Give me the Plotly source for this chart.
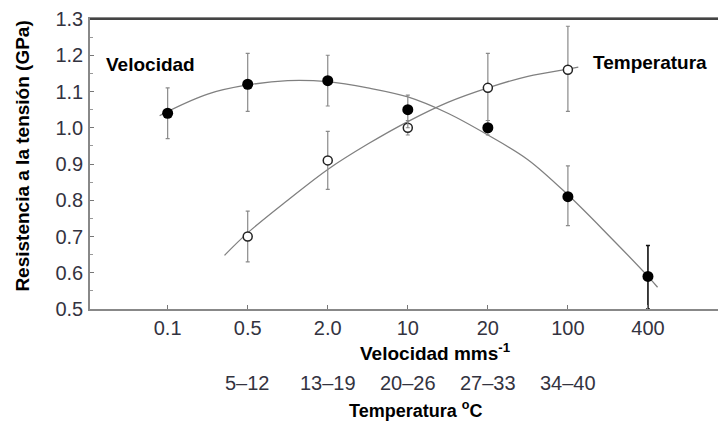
import plotly.graph_objects as go

# Category axis (velocity, mm/s) and temperature ranges
vel_labels = ["0.1", "0.5", "2.0", "10", "20", "100", "400"]
temp_labels = ["5–12", "13–19", "20–26", "27–33", "34–40"]

# Velocidad (filled) data
vel_x = [0, 1, 2, 3, 4, 5]
vel_y = [1.04, 1.12, 1.13, 1.05, 1.00, 0.81]
vel_err_plus = [0.07, 0.085, 0.07, 0.04, 0.02, 0.085]
vel_err_minus = [0.07, 0.075, 0.07, 0.05, 0.02, 0.08]
vel_last_x = [6]
vel_last_y = [0.59]
vel_last_plus = [0.085]
vel_last_minus = [0.09]

# Temperatura (open) data
temp_x = [1, 2, 3, 4, 5]
temp_y = [0.70, 0.91, 1.00, 1.11, 1.16]
temp_err_plus = [0.07, 0.08, 0.02, 0.095, 0.12]
temp_err_minus = [0.07, 0.08, 0.02, 0.09, 0.115]

# Fitted curves
vel_fit_x = [-0.1, 0, 0.5, 1, 1.5, 2, 2.5, 3, 3.5, 4, 4.5, 5, 5.5, 6, 6.12]
vel_fit_y = [1.033, 1.045, 1.093, 1.118, 1.13, 1.127, 1.11, 1.085, 1.04, 0.98,
             0.912, 0.815, 0.705, 0.59, 0.56]
temp_fit_x = [0.71, 1, 1.5, 2, 2.5, 3, 3.5, 4, 4.5, 5, 5.13]
temp_fit_y = [0.648, 0.71, 0.80, 0.885, 0.955, 1.017, 1.07, 1.11, 1.142, 1.162, 1.167]

FONT = "Liberation Sans, Arial, sans-serif"
fig = go.Figure()

fig.add_trace(go.Scatter(x=vel_fit_x, y=vel_fit_y, mode="lines",
                         line=dict(color="#808080", width=1.3, shape="spline"),
                         showlegend=False, hoverinfo="skip"))
fig.add_trace(go.Scatter(x=temp_fit_x, y=temp_fit_y, mode="lines",
                         line=dict(color="#808080", width=1.3, shape="spline"),
                         showlegend=False, hoverinfo="skip"))

fig.add_trace(go.Scatter(
    x=temp_x, y=temp_y, mode="markers",
    marker=dict(symbol="circle", size=9, color="white",
                line=dict(color="#222222", width=1.5)),
    error_y=dict(type="data", symmetric=False, array=temp_err_plus,
                 arrayminus=temp_err_minus, color="#8a8a8a", thickness=1.2, width=2),
    showlegend=False))

fig.add_trace(go.Scatter(
    x=vel_x, y=vel_y, mode="markers",
    marker=dict(symbol="circle", size=11, color="black"),
    error_y=dict(type="data", symmetric=False, array=vel_err_plus,
                 arrayminus=vel_err_minus, color="#8a8a8a", thickness=1.2, width=2),
    showlegend=False))

fig.add_trace(go.Scatter(
    x=vel_last_x, y=vel_last_y, mode="markers",
    marker=dict(symbol="circle", size=11, color="black"),
    error_y=dict(type="data", symmetric=False, array=vel_last_plus,
                 arrayminus=vel_last_minus, color="#111111", thickness=1.6, width=2),
    showlegend=False))

tickfont = dict(family=FONT, size=20, color="#33333f")

fig.update_xaxes(range=[-0.97, 6.95], tickmode="array", tickvals=list(range(7)),
                 ticktext=vel_labels, ticks="inside", ticklen=4, tickcolor="#777",
                 showline=True, linecolor="#888888", linewidth=1.5, mirror=True,
                 showgrid=False, zeroline=False, tickfont=tickfont,
                 ticklabelstandoff=0, automargin=False)
fig.update_yaxes(range=[0.5, 1.3], tickmode="array",
                 tickvals=[0.5, 0.6, 0.7, 0.8, 0.9, 1.0, 1.1, 1.2, 1.3],
                 ticktext=["0.5", "0.6", "0.7", "0.8", "0.9", "1.0", "1.1", "1.2", "1.3"],
                 ticks="inside", ticklen=4, tickcolor="#777",
                 minor=dict(ticks="inside", ticklen=3, dtick=0.05, tickcolor="#999"),
                 showline=True, linecolor="#888888", linewidth=1.5, mirror="allticks",
                 showgrid=False, zeroline=False, tickfont=tickfont,
                 ticklabelstandoff=1, automargin=False)

bold = dict(family=FONT, size=19, color="black")
common = dict(showarrow=False, xanchor="center", yanchor="middle")
annotations = [
    dict(text="<b>Velocidad</b>", x=-0.21, y=1.175, xref="x", yref="y",
         font=bold, **common),
    dict(text="<b>Temperatura</b>", x=6.03, y=1.18, xref="x", yref="y",
         font=bold, **common),
    dict(text="<b>Resistencia a la tensión (GPa)</b>", x=-0.107, y=0.526,
         xref="paper", yref="paper", textangle=-90,
         font=dict(family=FONT, size=19, color="black"), **common),
    dict(text="<b>Velocidad mms<sup>-1</sup></b>", x=3.34, y=-0.148,
         xref="x", yref="paper", font=bold, **common),
    dict(text="<b>Temperatura <sup>o</sup>C</b>", x=3.1, y=-0.345,
         xref="x", yref="paper", font=dict(family=FONT, size=18, color="black"),
         **common),
]
for i, lab in enumerate(temp_labels):
    annotations.append(dict(text=lab, x=i + 1, y=-0.255, xref="x", yref="paper",
                            font=tickfont, **common))

# page body keeps its default 8px margin, so the figure is 8px smaller
fig.update_layout(
    width=718, height=415,
    margin=dict(l=82, r=2, t=11, b=114, autoexpand=False),
    plot_bgcolor="white", paper_bgcolor="white",
    annotations=annotations,
    shapes=[dict(type="line", xref="paper", yref="paper", x0=0, x1=1, y0=1, y1=1,
                 line=dict(color="#444444", width=2))],
)

fig.write_html("out.html")
